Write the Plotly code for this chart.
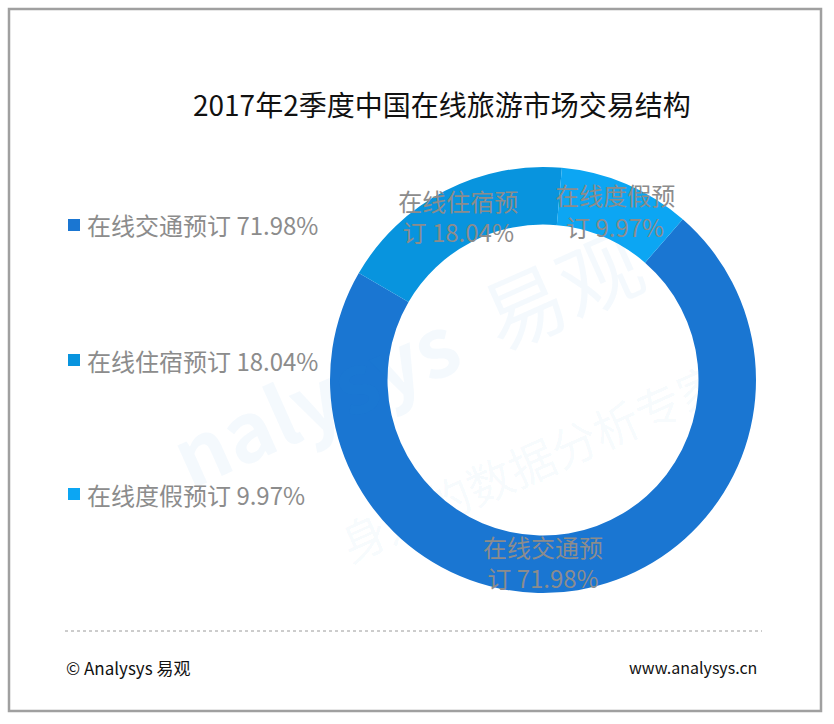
import plotly.graph_objects as go

# 数据
labels = ["在线交通预订", "在线住宿预订", "在线度假预订"]
values = [71.98, 18.04, 9.97]
colors = ["#1a76d2", "#0894de", "#0ca6f3"]

title = "2017年2季度中国在线旅游市场交易结构"
source_left = "© Analysys 易观"
source_right = "www.analysys.cn"

W, H = 834, 724
font_cjk = "Noto Sans CJK SC, Microsoft YaHei, sans-serif"
grey = "#8c8c8c"


def px(x):
    return x / W


def py(y):
    return 1 - y / H


# 扇区文字：最后一个字换行
slice_text = [f"{l[:-1]}<br>{l[-1]} {v:.2f}%" for l, v in zip(labels, values)]

fig = go.Figure()
fig.add_trace(go.Pie(
    labels=labels,
    values=values,
    text=slice_text,
    textinfo="text",
    textposition="inside",
    insidetextorientation="horizontal",
    textfont=dict(family=font_cjk, size=24, color=grey),
    hole=0.73,
    sort=False,
    direction="clockwise",
    rotation=41,
    marker=dict(colors=colors, line=dict(width=0)),
    domain=dict(x=[px(330), px(756)], y=[py(593), py(167)]),
    showlegend=False,
    hoverinfo="label+value",
))

shapes = []
annotations = []

# 外框
shapes.append(dict(type="rect", xref="paper", yref="paper",
                   x0=px(9), x1=px(821), y0=py(711), y1=py(9),
                   line=dict(color="#a0a0a0", width=2.5), layer="below"))

# 底部虚线
shapes.append(dict(type="line", xref="paper", yref="paper",
                   x0=px(65), x1=px(762), y0=py(631), y1=py(631),
                   line=dict(color="#9a9a9a", width=1, dash="dot")))

# 水印
annotations.append(dict(
    x=px(405), y=py(355), xref="paper", yref="paper", showarrow=False,
    text="<b>nalysys</b>  易观", textangle=-24,
    font=dict(family=font_cjk, size=82, color="rgba(30,130,210,0.05)")))
annotations.append(dict(
    x=px(510), y=py(470), xref="paper", yref="paper", showarrow=False,
    text="<span style='color:rgba(240,120,60,0.09)'>你</span>身边的数据分析专家",
    textangle=-24,
    font=dict(family=font_cjk, size=46, color="rgba(30,130,210,0.05)")))

# 自定义图例
legend_y = [225, 360, 494]
for lab, val, col, yy in zip(labels, values, colors, legend_y):
    shapes.append(dict(type="rect", xref="paper", yref="paper",
                       x0=px(68), x1=px(80), y0=py(yy + 6), y1=py(yy - 6),
                       fillcolor=col, line=dict(width=0)))
    annotations.append(dict(
        x=px(85), y=py(yy), xref="paper", yref="paper", showarrow=False,
        xanchor="left", yanchor="middle",
        text=f"{lab} {val:.2f}%",
        font=dict(family=font_cjk, size=24, color=grey)))

# 标题
annotations.append(dict(
    x=px(442), y=py(104), xref="paper", yref="paper", showarrow=False,
    xanchor="center", yanchor="middle", text=title,
    font=dict(family=font_cjk, size=28, color="#111111")))

# 来源
annotations.append(dict(
    x=px(64), y=py(667), xref="paper", yref="paper", showarrow=False,
    xanchor="left", yanchor="middle", text=source_left,
    font=dict(family=font_cjk, size=17, color="#111111")))
annotations.append(dict(
    x=px(759), y=py(667), xref="paper", yref="paper", showarrow=False,
    xanchor="right", yanchor="middle", text=source_right,
    font=dict(family=font_cjk, size=16, color="#111111")))

fig.update_layout(
    width=W, height=H,
    margin=dict(l=0, r=0, t=0, b=0),
    paper_bgcolor="white",
    plot_bgcolor="white",
    shapes=shapes,
    annotations=annotations,
    uniformtext=dict(minsize=24, mode="show"),
)

fig.write_html("out.html", config={"displayModeBar": False},
               post_script="document.body.style.margin='0px';")
